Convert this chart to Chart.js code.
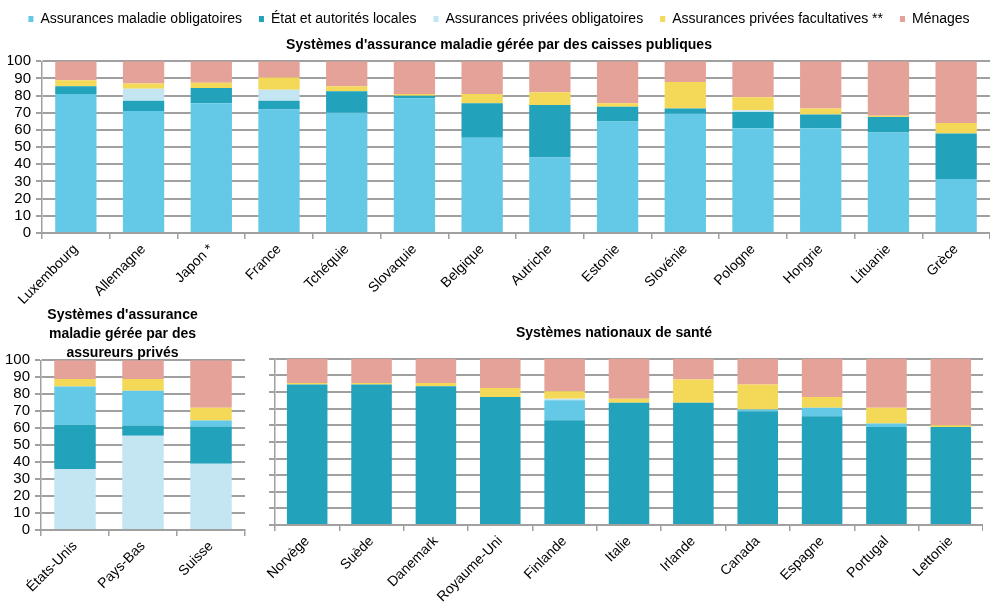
<!DOCTYPE html>
<html>
<head>
<meta charset="utf-8">
<script src="https://cdn.jsdelivr.net/npm/chart.js@4/dist/chart.umd.min.js"></script>
<style>
  html, body { margin: 0; padding: 0; background: #fff; overflow: hidden; }
  body { width: 990px; height: 602px; position: relative; }
  canvas { position: absolute; }
  #top { left: -30px; top: 0; }
  #left { left: 0; top: 300px; }
  #right { left: 245px; top: 320px; }
</style>
</head>
<body>
<canvas id="top" width="1050" height="310"></canvas>
<canvas id="left" width="255" height="302"></canvas>
<canvas id="right" width="738" height="282"></canvas>
<script>
// Series names
const serMaladie = "Assurances maladie obligatoires";
const serEtat = "État et autorités locales";
const serPrivOblig = "Assurances privées obligatoires";
const serPrivFac = "Assurances privées facultatives **";
const serMenages = "Ménages";

// Caisses publiques
const topCountries = ["Luxembourg", "Allemagne", "Japon *", "France", "Tchéquie", "Slovaquie", "Belgique", "Autriche", "Estonie", "Slovénie", "Pologne", "Hongrie", "Lituanie", "Grèce"];
const topMaladie   = [81, 71, 75.5, 72, 70, 78.5, 55.5, 44, 65, 69.5, 61, 61, 58.5, 31.5];
const topEtat      = [4.5, 6, 9, 5, 12.5, 1.5, 20, 30.5, 8.5, 3, 9.5, 8, 9, 26.5];
const topPrivOblig = [0, 7, 0, 6.5, 0, 0, 0, 0, 0, 0, 1, 0, 0, 0];
const topPrivFac   = [3.5, 3, 3, 7, 3, 1, 5.5, 7.5, 2, 15.5, 7.5, 3.5, 0.8, 6];
const topMenages   = [11, 13, 12.5, 9.5, 14.5, 19, 19, 18, 24.5, 12, 21, 27.5, 31.7, 36];

// Assureurs privés
const leftCountries = ["États-Unis", "Pays-Bas", "Suisse"];
const leftPrivOblig = [36, 55.5, 39];
const leftEtat      = [26, 6, 22];
const leftMaladie   = [22.5, 20.5, 3.5];
const leftPrivFac   = [4.5, 7, 7.5];
const leftMenages   = [11, 11, 28];

// Systèmes nationaux de santé
const rightCountries = ["Norvège", "Suède", "Danemark", "Royaume-Uni", "Finlande", "Italie", "Irlande", "Canada", "Espagne", "Portugal", "Lettonie"];
const rightEtat      = [84.5, 84.5, 83.5, 77, 63, 73.5, 73.5, 68.5, 65.5, 59, 59];
const rightMaladie   = [0, 0, 0, 0, 12, 0, 0, 1, 5, 2, 0];
const rightPrivOblig = [0, 0, 0, 0, 1, 0, 0, 0, 0, 0, 0];
const rightPrivFac   = [1, 1, 2, 5.5, 4.5, 2.5, 14, 15, 6.5, 9.5, 1];
const rightMenages   = [14.5, 14.5, 14.5, 17.5, 19.5, 24, 12.5, 15.5, 23, 29.5, 40];

const yTicks = [0, 10, 20, 30, 40, 50, 60, 70, 80, 90, 100];

const colors = {};
colors[serMaladie] = "#63c9e6";
colors[serEtat] = "#22a2bb";
colors[serPrivOblig] = "#c4e6f2";
colors[serPrivFac] = "#f3d957";
colors[serMenages] = "#e4a298";

const gridGray = "#a0a0a0";

Chart.defaults.font.family = "'Liberation Sans', Arial, sans-serif";
Chart.defaults.font.size = 14;
Chart.defaults.color = "#000";
Chart.defaults.animation = false;

function ds(label, data) {
  return {
    label: label,
    data: data,
    backgroundColor: colors[label],
    borderWidth: 0
  };
}

function scales(yWidth, xHeight, showY) {
  return {
    x: {
      stacked: true,
      grid: { display: true, offset: true, drawOnChartArea: false, drawTicks: true, tickLength: 6, color: gridGray, lineWidth: 1.5 },
      border: { color: gridGray, width: 2 },
      ticks: { autoSkip: false, minRotation: 45, maxRotation: 45, padding: 2, font: { size: 14 } },
      afterFit: s => { s.height = xHeight; }
    },
    y: {
      stacked: true,
      min: 0,
      max: 100,
      afterBuildTicks: s => { s.ticks = yTicks.map(v => ({ value: v })); },
      grid: { color: gridGray, lineWidth: 2, drawTicks: true, tickLength: 6 },
      border: { color: gridGray, width: 1.5 },
      ticks: { display: showY, autoSkip: false, padding: 5, font: { size: 15 } },
      afterFit: s => { s.width = yWidth; }
    }
  };
}

// top chart
new Chart(document.getElementById("top"), {
  type: "bar",
  data: {
    labels: topCountries,
    datasets: [
      ds(serMaladie, topMaladie),
      ds(serEtat, topEtat),
      ds(serPrivOblig, topPrivOblig),
      ds(serPrivFac, topPrivFac),
      ds(serMenages, topMenages)
    ]
  },
  options: {
    responsive: false,
    barPercentage: 0.61,
    categoryPercentage: 1,
    layout: { padding: { left: 38, right: 30, top: -5, bottom: 0 } },
    plugins: {
      legend: {
        position: "top",
        labels: { boxWidth: 5, boxHeight: 6, padding: 17, font: { size: 14 } }
      },
      title: {
        display: true,
        text: "Systèmes d'assurance maladie gérée par des caisses publiques",
        font: { size: 14, weight: "bold" },
        padding: { top: 1, bottom: 7.5 },
        weight: 500
      },
      tooltip: { enabled: false }
    },
    scales: scales(34, 77, true)
  }
});

// bottom left chart
new Chart(document.getElementById("left"), {
  type: "bar",
  data: {
    labels: leftCountries,
    datasets: [
      ds(serPrivOblig, leftPrivOblig),
      ds(serEtat, leftEtat),
      ds(serMaladie, leftMaladie),
      ds(serPrivFac, leftPrivFac),
      ds(serMenages, leftMenages)
    ]
  },
  options: {
    responsive: false,
    barPercentage: 0.61,
    categoryPercentage: 1,
    layout: { padding: { left: 0, right: 10, top: 0, bottom: 0 } },
    plugins: {
      legend: { display: false },
      title: {
        display: true,
        text: ["Systèmes d'assurance", "maladie gérée par des", "assureurs privés"],
        font: { size: 14, weight: "bold", lineHeight: 1.34 },
        padding: { top: 6, bottom: -2 }
      },
      tooltip: { enabled: false }
    },
    scales: scales(41, 72, true)
  }
});

// bottom right chart
new Chart(document.getElementById("right"), {
  type: "bar",
  data: {
    labels: rightCountries,
    datasets: [
      ds(serEtat, rightEtat),
      ds(serMaladie, rightMaladie),
      ds(serPrivOblig, rightPrivOblig),
      ds(serPrivFac, rightPrivFac),
      ds(serMenages, rightMenages)
    ]
  },
  options: {
    responsive: false,
    barPercentage: 0.63,
    categoryPercentage: 1,
    layout: { padding: { left: 0, right: 0, top: 0, bottom: 0 } },
    plugins: {
      legend: { display: false },
      title: {
        display: true,
        text: "Systèmes nationaux de santé",
        font: { size: 14, weight: "bold" },
        padding: { top: 4.5, bottom: 17.5 }
      },
      tooltip: { enabled: false }
    },
    scales: scales(30, 77, false)
  }
});
</script>
</body>
</html>
